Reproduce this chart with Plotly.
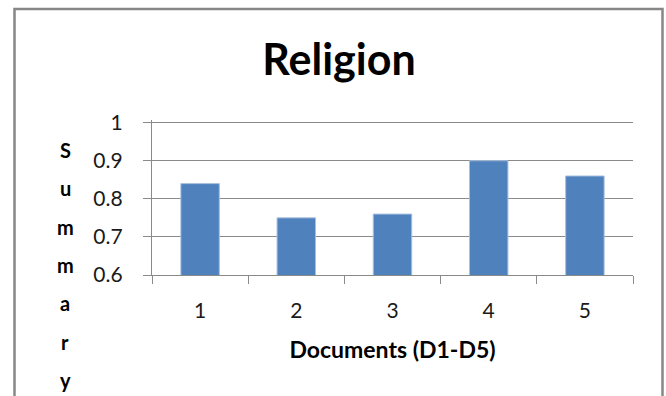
import plotly.graph_objects as go

# Summary scores per document
documents = ["1", "2", "3", "4", "5"]
summary_scores = [0.84, 0.75, 0.76, 0.90, 0.86]
y_ticks = [0.6, 0.7, 0.8, 0.9, 1.0]
y_tick_text = ["0.6", "0.7", "0.8", "0.9", "1"]
y_title_letters = list("Summary")

W, H = 666, 396
L, R, T, B = 152, 33, 120, 121   # plot area margins (px)
PW, PH = W - L - R, H - T - B

FONT = "Lato"
TEXT = "#1a1a1a"
GRID = "#8a8a8a"


def px_x(x):
    return (x - L) / PW


def px_y(y):
    return (H - B - y) / PH


fig = go.Figure(
    go.Bar(
        x=documents,
        y=summary_scores,
        marker=dict(color="#4F81BD", line=dict(color="#A9C0DF", width=1)),
        hoverinfo="x+y",
    )
)

fig.update_layout(
    width=W,
    height=H,
    margin=dict(l=L, r=R, t=T, b=B, pad=0),
    paper_bgcolor="white",
    plot_bgcolor="white",
    bargap=0.6,
    showlegend=False,
    font=dict(family=FONT, color=TEXT, size=21),
    title=dict(
        text="<b>Religion</b>",
        font=dict(family=FONT, size=43, color="#000000"),
        x=339 / W,
        xref="container",
        xanchor="center",
        y=1 - 60 / H,
        yref="container",
        yanchor="middle",
    ),
)

fig.update_xaxes(
    type="category",
    tickson="boundaries",
    ticks="outside",
    ticklen=8,
    tickwidth=1.3,
    tickcolor=GRID,
    showline=True,
    linecolor=GRID,
    linewidth=1.3,
    showgrid=False,
    ticklabelstandoff=17,
    tickfont=dict(size=21, color=TEXT),
    title=dict(text="<b>Documents (D1-D5)</b>", font=dict(size=23, color="#000000"), standoff=20),
)

fig.update_yaxes(
    range=[0.6, 1.007],
    tickvals=y_ticks,
    ticktext=y_tick_text,
    ticks="outside",
    ticklen=8,
    tickwidth=1.3,
    tickcolor=GRID,
    showline=True,
    linecolor=GRID,
    linewidth=1.3,
    showgrid=True,
    gridcolor=GRID,
    gridwidth=1.3,
    zeroline=False,
    ticklabelstandoff=16,
    tickfont=dict(size=21, color=TEXT),
)

# Stacked vertical axis title, one letter per line
for i, ch in enumerate(y_title_letters):
    fig.add_annotation(
        text=f"<b>{ch}</b>",
        xref="paper",
        yref="paper",
        x=px_x(65),
        y=px_y(150 + i * 38.3),
        xanchor="center",
        yanchor="middle",
        showarrow=False,
        font=dict(family=FONT, size=20, color="#000000"),
    )

# Chart border
fig.add_shape(
    type="rect",
    xref="paper",
    yref="paper",
    x0=px_x(14.5),
    x1=px_x(662.5),
    y0=px_y(H + 20),
    y1=px_y(9),
    line=dict(color="#878787", width=2.5),
    fillcolor="rgba(0,0,0,0)",
    layer="above",
)

fig.write_html("out.html")
